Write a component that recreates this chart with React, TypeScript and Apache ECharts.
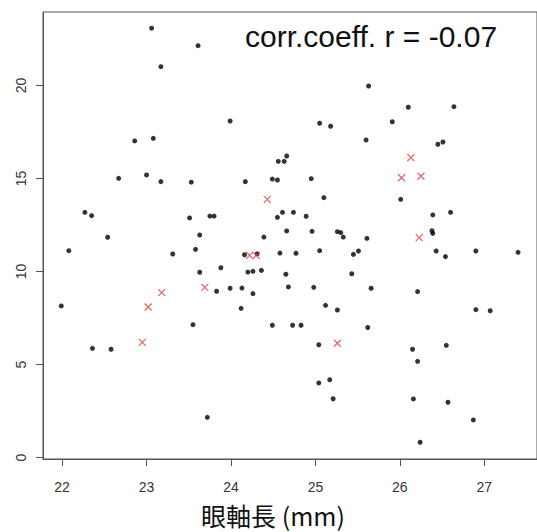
import React, { useEffect, useRef } from "react";
import * as echarts from "echarts";

// Black points: axial length (mm) and value
const blackAxial = [
  23.06, 23.61, 23.17, 22.86, 23.08, 22.67, 23.0, 23.17, 23.53, 22.27,
  22.35, 23.51, 22.54, 23.63, 23.99, 25.05, 25.18, 25.6, 24.66, 24.56,
  24.63, 24.17, 24.49, 24.55, 24.95, 25.1, 23.75, 23.8, 24.61, 24.55,
  24.74, 24.89, 24.39, 24.66, 24.96, 25.26, 25.3, 25.33, 25.61, 25.63,
  26.1, 26.64, 25.91, 26.45, 26.51, 26.01, 26.39, 26.6, 26.38, 26.39,
  22.08, 23.58, 23.31, 23.63, 21.99, 23.55, 22.36, 22.58, 23.83, 23.88,
  23.99, 24.13, 24.12, 24.26, 24.2, 24.26, 24.36, 24.16, 24.31, 23.72,
  24.58, 24.77, 25.05, 25.45, 25.51, 24.65, 25.43, 24.68, 24.98, 25.12,
  25.26, 24.49, 24.73, 24.83, 25.62, 25.04, 25.04, 25.17, 25.21, 26.43,
  26.54, 26.9, 27.4, 25.66, 26.21, 26.9, 27.07, 26.15, 26.55, 26.21,
  26.16, 26.57, 26.87, 26.24,
];
const blackValue = [
  23.08, 22.14, 21.01, 17.02, 17.16, 15.01, 15.19, 14.83, 14.8, 13.18,
  13.0, 12.88, 11.84, 11.96, 18.09, 17.97, 17.81, 17.07, 16.21, 15.92,
  15.92, 14.83, 14.97, 14.92, 14.99, 13.97, 12.98, 12.98, 13.18, 12.91,
  13.18, 12.97, 11.85, 12.18, 12.16, 12.14, 12.09, 11.85, 11.78, 19.97,
  18.83, 18.86, 18.05, 16.84, 16.96, 13.88, 13.04, 13.18, 12.19, 12.05,
  11.12, 11.19, 10.94, 9.96, 8.15, 7.14, 5.87, 5.82, 8.94, 10.2,
  9.1, 9.11, 8.02, 8.81, 9.97, 10.01, 10.06, 10.9, 10.95, 2.16,
  10.99, 10.98, 11.12, 10.92, 11.1, 9.85, 9.88, 9.17, 9.15, 8.18,
  7.93, 7.11, 7.11, 7.11, 6.99, 6.06, 4.01, 4.18, 3.16, 11.1,
  10.8, 11.1, 11.03, 9.1, 8.92, 7.95, 7.89, 5.82, 6.03, 5.17,
  3.15, 2.97, 2.02, 0.82,
];

// Red crosses
const redAxial = [22.95, 23.02, 23.18, 23.69, 24.22, 24.3, 24.43, 25.26, 26.02, 26.13, 26.25, 26.23];
const redValue = [6.19, 8.09, 8.86, 9.15, 10.87, 10.87, 13.88, 6.14, 15.04, 16.12, 15.12, 11.82];

const xTicks = [22, 23, 24, 25, 26, 27];
const yTicks = [0, 5, 10, 15, 20];

const corrText = "corr.coeff. r = -0.07";
const xTitle = "眼軸長 (mm)";

export default function App() {
  const ref = useRef<HTMLDivElement>(null);

  useEffect(() => {
    if (!ref.current) return;
    const chart = echarts.init(ref.current, undefined, { renderer: "svg" });
    const blackData = blackAxial.map((x, i) => [x, blackValue[i]]);
    const redData = redAxial.map((x, i) => [x, redValue[i]]);
    const axisColor = "#555";
    const labelColor = "#333";
    chart.setOption({
      animation: false,
      backgroundColor: "#fff",
      grid: {
        left: 43,
        top: 12,
        width: 499,
        height: 447,
        show: true,
        borderColor: axisColor,
        borderWidth: 1,
        backgroundColor: "transparent",
      },
      xAxis: {
        type: "value",
        min: 21.774,
        max: 27.624,
        splitLine: { show: false },
        axisLine: { show: true, onZero: false, lineStyle: { color: axisColor, width: 1 } },
        axisTick: {
          show: true,
          length: 7,
          customValues: xTicks,
          lineStyle: { color: axisColor, width: 1 },
        },
        axisLabel: {
          customValues: xTicks,
          margin: 21,
          color: labelColor,
          fontSize: 14,
          fontFamily: "Liberation Sans",
        },
      },
      yAxis: {
        type: "value",
        min: -0.08,
        max: 23.95,
        splitLine: { show: false },
        axisLine: { show: true, onZero: false, lineStyle: { color: axisColor, width: 1 } },
        axisTick: {
          show: true,
          length: 7,
          customValues: yTicks,
          lineStyle: { color: axisColor, width: 1 },
        },
        axisLabel: {
          customValues: yTicks,
          rotate: 90,
          margin: 15,
          color: labelColor,
          fontSize: 14,
          fontFamily: "Liberation Sans",
        },
      },
      series: [
        {
          type: "scatter",
          data: blackData,
          symbol: "circle",
          symbolSize: 5,
          itemStyle: { color: "#000" },
        },
        {
          type: "scatter",
          data: redData,
          symbol: "path://M0,0L10,10M10,0L0,10",
          symbolSize: 7,
          itemStyle: { color: "transparent", borderColor: "#dd3b3b", borderWidth: 1.2 },
        },
      ],
      graphic: [
        {
          type: "text",
          style: {
            text: corrText,
            x: 245,
            y: 36,
            align: "left",
            verticalAlign: "middle",
            fontSize: 30,
            fontFamily: "Liberation Sans",
            fill: "#111",
          },
        },
        {
          type: "text",
          style: {
            text: xTitle,
            x: 273,
            y: 515,
            align: "center",
            verticalAlign: "middle",
            fontSize: 25,
            lineHeight: 26,
            fontFamily: "Noto Sans CJK JP",
            fill: "#111",
          },
        },
      ],
    });
    return () => chart.dispose();
  }, []);

  return (
    <div
      ref={ref}
      style={{ position: "fixed", left: 0, top: 0, width: 537, height: 532, background: "#fff" }}
    />
  );
}
